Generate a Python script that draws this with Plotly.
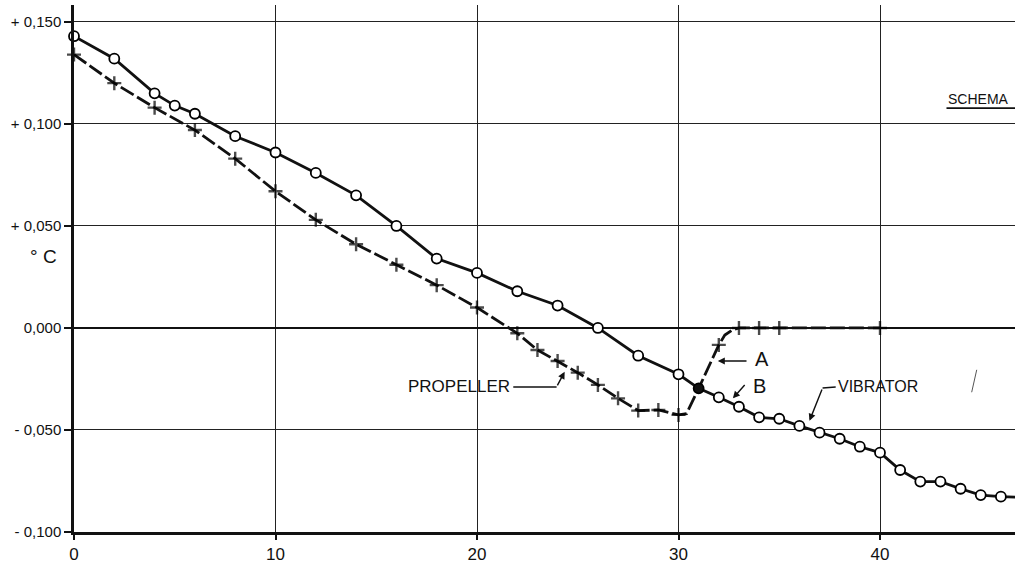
import plotly.graph_objects as go

# ---- data ----
vib_x = [0, 2, 4, 5, 6, 8, 10, 12, 14, 16, 18, 20, 22, 24, 26, 28, 30, 31, 32, 33,
         34, 35, 36, 37, 38, 39, 40, 41, 42, 43, 44, 45, 46, 47]
vib_y = [0.143, 0.132, 0.115, 0.109, 0.105, 0.094, 0.086, 0.076, 0.065, 0.050, 0.034,
         0.027, 0.018, 0.011, 0.000, -0.0136, -0.0227, -0.0296, -0.034, -0.0386,
         -0.0438, -0.0445, -0.048, -0.0513, -0.0543, -0.0582, -0.0611, -0.0696,
         -0.0753, -0.0753, -0.0788, -0.0819, -0.0827, -0.0830]
vib_marker = ["o"] * 17 + ["filled"] + ["o"] * 15 + ["none"]

prop_x = [0, 2, 4, 6, 8, 10, 12, 14, 16, 18, 20, 22, 23, 24, 25, 26, 27, 28, 29, 30,
          30.4, 31, 32, 32.3, 32.7, 33, 34, 35, 40]
prop_y = [0.134, 0.120, 0.108, 0.097, 0.083, 0.067, 0.053, 0.041, 0.031, 0.021,
          0.010, -0.0026, -0.0108, -0.0162, -0.0219, -0.0279, -0.0345, -0.0405,
          -0.0402, -0.0426, -0.042, -0.0296, -0.0083, -0.0035, -0.0008, 0.0, 0.0,
          0.0, 0.0]
prop_marker = [True] * 20 + [False, False, True, False, False, True, True, True, True]

x_ticks = [0, 10, 20, 30, 40]
y_ticks = [0.15, 0.10, 0.05, 0.0, -0.05, -0.10]
y_tick_text = ["+ 0,150", "+ 0,100", "+ 0,050", "0,000", "- 0,050", "- 0,100"]

FONT = "Liberation Sans"
INK = "#111111"

fig = go.Figure()

# propeller (A) curve: dashed with plus markers
fig.add_trace(go.Scatter(
    x=prop_x, y=prop_y, mode="lines+markers", cliponaxis=False,
    line=dict(color=INK, width=2.8, dash="15px,4px"),
    marker=dict(symbol="cross-thin", size=[10 if m else 0 for m in prop_marker],
                line=dict(color="#000000", width=2.4)),
    showlegend=False, hoverinfo="skip"))

# vibrator (B) curve: solid with open circles
fig.add_trace(go.Scatter(
    x=vib_x, y=vib_y, mode="lines+markers", cliponaxis=False,
    line=dict(color=INK, width=2.8),
    marker=dict(symbol="circle",
                size=[0 if m == "none" else 10 for m in vib_marker],
                color=[INK if m == "filled" else "#ffffff" for m in vib_marker],
                opacity=1,
                line=dict(color="#000000", width=1.8)),
    showlegend=False, hoverinfo="skip"))

ann = []
# y-axis unit
ann.append(dict(x=-31 / 941, y=0.0348, xref="paper", yref="y", text="° C", showarrow=False,
                xanchor="center", font=dict(family=FONT, size=19, color=INK)))
# PROPELLER label + arrow
ann.append(dict(x=16.5, y=-0.0289, xref="x", yref="y", text="PROPELLER", showarrow=False,
                xanchor="left", font=dict(family=FONT, size=17, color=INK)))
fig.add_shape(type="line", x0=21.8, y0=-0.0289, x1=23.95, y1=-0.0289,
              line=dict(color=INK, width=1.4))
ann.append(dict(x=24.35, y=-0.0215, ax=23.95, ay=-0.0289, xref="x", yref="y",
                axref="x", ayref="y", text="", showarrow=True, arrowhead=2,
                arrowsize=1, arrowwidth=1.4, arrowcolor=INK))
# A label + arrow
ann.append(dict(x=34.15, y=-0.0150, xref="x", yref="y", text="A", showarrow=False,
                font=dict(family=FONT, size=20, color=INK)))
ann.append(dict(x=31.95, y=-0.0162, ax=33.45, ay=-0.0162, xref="x", yref="y",
                axref="x", ayref="y", text="", showarrow=True, arrowhead=2,
                arrowsize=1, arrowwidth=1.4, arrowcolor=INK))
# B label + arrow
ann.append(dict(x=34.0, y=-0.0285, xref="x", yref="y", text="B", showarrow=False,
                font=dict(family=FONT, size=20, color=INK)))
ann.append(dict(x=32.7, y=-0.0345, ax=33.35, ay=-0.0272, xref="x", yref="y",
                axref="x", ayref="y", text="", showarrow=True, arrowhead=2,
                arrowsize=1, arrowwidth=1.4, arrowcolor=INK))
# VIBRATOR label + bent arrow
ann.append(dict(x=37.8, y=-0.0289, xref="x", yref="y", text="VIBRATOR", showarrow=False,
                xanchor="left", font=dict(family=FONT, size=16, color=INK)))
fig.add_shape(type="line", x0=37.8, y0=-0.0289, x1=37.15, y1=-0.0294,
              line=dict(color=INK, width=1.4))
ann.append(dict(x=36.5, y=-0.0455, ax=37.15, ay=-0.0294, xref="x", yref="y",
                axref="x", ayref="y", text="", showarrow=True, arrowhead=2,
                arrowsize=1, arrowwidth=1.4, arrowcolor=INK))
# SCHEMA title with underline
ann.append(dict(x=43.3, y=0.1123, xref="x", yref="y", text="SCHEMA", showarrow=False,
                xanchor="left", font=dict(family=FONT, size=14, color=INK)))
fig.add_shape(type="line", x0=43.3, y0=0.1078, x1=47.5, y1=0.1078,
              line=dict(color=INK, width=1.8))
# stray pen mark
fig.add_shape(type="line", x0=44.55, y0=-0.0315, x1=44.8, y1=-0.0205,
              line=dict(color="#555555", width=1))

fig.update_layout(
    width=1015, height=563,
    margin=dict(l=74, r=0, t=5, b=31),
    paper_bgcolor="white", plot_bgcolor="white",
    annotations=ann,
    font=dict(family=FONT, color=INK),
    xaxis=dict(range=[0, 46.7], tickmode="array", tickvals=x_ticks,
               ticktext=[str(v) for v in x_ticks],
               showgrid=True, gridcolor="#222222", gridwidth=1.2,
               zeroline=False, showline=True, linecolor=INK, linewidth=2.5,
               ticks="outside", ticklen=5, tickwidth=1.5, tickcolor=INK,
               tickfont=dict(family=FONT, size=17, color=INK)),
    yaxis=dict(range=[-0.1, 0.1583], tickmode="array", tickvals=y_ticks,
               ticktext=y_tick_text,
               showgrid=True, gridcolor="#222222", gridwidth=1.2,
               zeroline=True, zerolinecolor=INK, zerolinewidth=2.2,
               showline=True, linecolor=INK, linewidth=2.5,
               ticks="outside", ticklen=7, tickwidth=1.5, tickcolor=INK,
               tickfont=dict(family=FONT, size=15, color=INK)),
)

fig.write_html("out.html", config={"displayModeBar": False},
               post_script="document.body.style.margin='0';document.body.style.overflow='hidden';")
